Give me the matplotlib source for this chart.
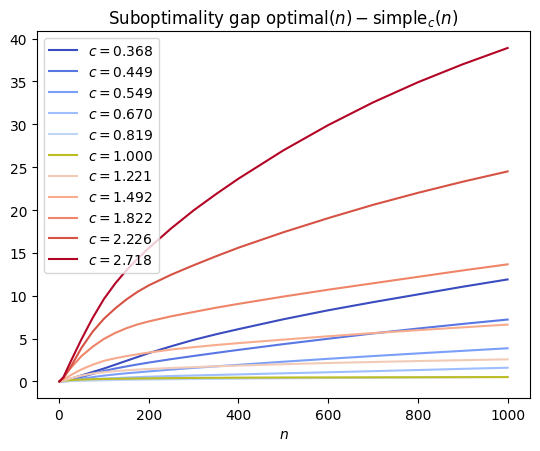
import matplotlib
matplotlib.use("Agg")
import matplotlib.pyplot as plt
import numpy as np

# values
n = [1, 10, 25, 50, 75, 100, 125, 150, 175, 200, 250, 300, 350, 400, 500, 600, 700, 800, 900, 1000]
c_values = [0.368, 0.449, 0.549, 0.670, 0.819, 1.000, 1.221, 1.492, 1.822, 2.226, 2.718]

gap_0368 = [0, 0.05, 0.3, 0.7, 1.1, 1.5, 1.95, 2.4, 2.85, 3.3, 4.1, 4.85, 5.5, 6.1, 7.25, 8.3, 9.25, 10.15, 11.05, 11.9]
gap_0449 = [0, 0.03, 0.2, 0.5, 0.88, 1.22, 1.5, 1.75, 1.98, 2.2, 2.6, 2.97, 3.33, 3.68, 4.35, 4.98, 5.6, 6.17, 6.71, 7.22]
gap_0549 = [0, 0.02, 0.1, 0.3, 0.5, 0.68, 0.82, 0.95, 1.06, 1.17, 1.38, 1.58, 1.76, 1.94, 2.3, 2.64, 2.96, 3.27, 3.57, 3.87]
gap_0670 = [0, 0.01, 0.05, 0.15, 0.25, 0.33, 0.39, 0.45, 0.5, 0.55, 0.63, 0.7, 0.76, 0.82, 0.95, 1.07, 1.2, 1.33, 1.47, 1.6]
gap_0819 = [0, 0.01, 0.03, 0.07, 0.1, 0.13, 0.16, 0.18, 0.2, 0.22, 0.25, 0.28, 0.3, 0.32, 0.36, 0.4, 0.43, 0.46, 0.49, 0.52]
gap_1000 = [0, 0.08, 0.15, 0.22, 0.26, 0.29, 0.31, 0.33, 0.35, 0.36, 0.39, 0.41, 0.43, 0.44, 0.46, 0.47, 0.48, 0.49, 0.5, 0.51]
gap_1221 = [0, 0.1, 0.35, 0.68, 0.92, 1.08, 1.2, 1.3, 1.38, 1.45, 1.57, 1.67, 1.76, 1.85, 2.01, 2.15, 2.27, 2.38, 2.48, 2.58]
gap_1492 = [0, 0.2, 0.7, 1.4, 1.95, 2.4, 2.7, 2.95, 3.17, 3.37, 3.72, 4.0, 4.25, 4.47, 4.88, 5.27, 5.64, 5.98, 6.31, 6.63]
gap_1822 = [0, 0.45, 1.5, 2.95, 4.05, 4.95, 5.65, 6.2, 6.65, 7.0, 7.6, 8.1, 8.6, 9.05, 9.9, 10.7, 11.45, 12.2, 12.95, 13.66]
gap_2226 = [0, 0.4, 1.6, 3.9, 5.8, 7.3, 8.5, 9.55, 10.45, 11.2, 12.45, 13.55, 14.6, 15.6, 17.4, 19.05, 20.6, 22.0, 23.3, 24.5]
gap_2718 = [0, 0.5, 2.2, 4.9, 7.4, 9.6, 11.4, 12.95, 14.3, 15.55, 17.85, 19.95, 21.85, 23.65, 26.95, 29.9, 32.55, 34.9, 37.0, 38.9]

gaps = [gap_0368, gap_0449, gap_0549, gap_0670, gap_0819, gap_1000,
        gap_1221, gap_1492, gap_1822, gap_2226, gap_2718]

fig, ax = plt.subplots(figsize=(5.4, 4.52), dpi=100)
fig.subplots_adjust(left=0.0685, right=0.9815, top=0.9285, bottom=0.117)

cmap = plt.get_cmap("coolwarm")
for c, gap in zip(c_values, gaps):
    if c == 1.0:
        color = "tab:olive"
    else:
        color = cmap((np.log(c) + 1) / 2)
    ax.plot(n, gap, color=color, label=f"$c = {c:.3f}$")

ax.set_title(r"Suboptimality gap $\mathrm{optimal}(n) - \mathrm{simple}_c(n)$")
ax.set_xlabel("$n$")
ax.legend(loc="upper left")

fig.savefig("out.png")
